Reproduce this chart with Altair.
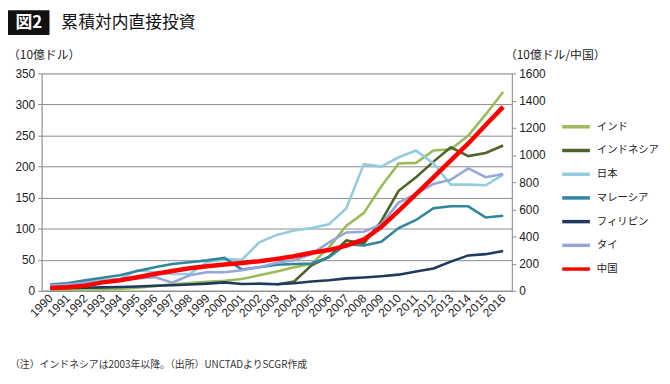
import altair as alt
import pandas as pd

years = [str(y) for y in range(1990, 2017)]

names = ["インド", "インドネシア", "日本", "マレーシア", "フィリピン", "タイ", "中国"]
colors = ["#9BBB59", "#4F6228", "#93CDDD", "#31859C", "#1F3A5F", "#95A6D8", "#FF0000"]

india = [1.7, 1.9, 2.1, 2.3, 3.0, 5.0, 7.5, 10.5, 12.5, 14.5, 16.3, 19, 25, 31, 38, 43,
         70, 105, 125, 168, 205, 206, 226, 228, 250, 284, 320]
indonesia = [None] * 13 + [10, 15, 41, 55, 81, 76, 112, 161, 183, 208, 231, 217, 222, 234]
japan = [10, 12, 15.5, 17, 19, 33, 30, 27, 27, 46, 51, 50, 78, 90, 97, 101, 107, 133,
         204, 200, 215, 226, 205, 171, 171, 170, 187]
malaysia = [10, 12, 17, 21, 25, 32, 38, 43, 46, 49, 53, 34, 38, 42, 43, 44, 54, 75, 73,
            79, 101, 114, 133, 136, 136, 118, 121]
philippines = [4, 4.5, 5, 5.5, 6, 7, 8, 9, 10, 11.5, 13.5, 11, 11.5, 10.5, 12, 15, 17,
               20, 21.5, 23.5, 26, 31, 36, 47, 57, 59, 64]
thailand = [8.5, 10, 12.5, 14.5, 16.5, 20, 22, 13, 25, 30, 30, 33, 38, 45, 49, 59, 78,
            94, 95, 107, 142, 156, 172, 179, 197, 183, 188]
china = [21, 26, 38, 62, 78, 100, 124, 146, 166, 181, 193, 205, 218, 235, 254, 280, 300,
         332, 378, 470, 588, 711, 835, 960, 1085, 1220, 1354]

left_ticks = list(range(0, 351, 50))
right_ticks = list(range(0, 1601, 200))

rows = []
for name, series in zip(names[:6], [india, indonesia, japan, malaysia, philippines, thailand]):
    for i, (yr, v) in enumerate(zip(years, series)):
        rows.append({"year": yr, "country": name, "value": v, "order": i})
df_left = pd.DataFrame(rows)
df_china = pd.DataFrame({"year": years, "country": "中国", "value": china,
                         "order": list(range(len(years)))})

JP = "Noto Sans CJK JP"
NUM = "Liberation Sans"

xenc = alt.X("year:O", sort=years,
             scale=alt.Scale(type="point", padding=0.5),
             axis=alt.Axis(title=None, labelAngle=-45, labelAlign="right",
                           labelBaseline="middle", ticks=False, labelPadding=5,
                           domainColor="#8a8a8a", labelFont=NUM, labelFontSize=12,
                           labelColor="#222"))

legend = alt.Legend(orient="none", legendX=525, legendY=38, title=None,
                    symbolType="stroke", symbolSize=784, symbolStrokeWidth=3.5,
                    labelFont=JP, labelFontSize=10.5, labelColor="#222",
                    rowPadding=1, labelOffset=5)

color = alt.Color("country:N", scale=alt.Scale(domain=names, range=colors), legend=legend)

left = alt.Chart(df_left).mark_line(strokeWidth=2.6).encode(
    x=xenc,
    y=alt.Y("value:Q", scale=alt.Scale(domain=[0, 350], nice=False),
            axis=alt.Axis(title=None, values=left_ticks, grid=True, gridColor="#8a8a8a",
                          tickSize=4, tickColor="#8a8a8a", domainColor="#8a8a8a",
                          labelFont=NUM, labelFontSize=12, labelColor="#222",
                          labelPadding=3)),
    color=color,
    detail="country:N",
    order="order:Q",
)

right = alt.Chart(df_china).mark_line(strokeWidth=4.5).encode(
    x=xenc,
    y=alt.Y("value:Q", scale=alt.Scale(domain=[0, 1600], nice=False),
            axis=alt.Axis(title=None, orient="right", values=right_ticks, grid=False,
                          format="d",
                          tickSize=4, tickColor="#8a8a8a", domainColor="#8a8a8a",
                          labelFont=NUM, labelFontSize=12, labelColor="#222",
                          labelPadding=3)),
    color=color,
    order="order:Q",
)

one = pd.DataFrame({"a": [0]})

box = alt.Chart(one).mark_rect(color="#111").encode(
    x=alt.value(-34), x2=alt.value(8), y=alt.value(-64), y2=alt.value(-39))
fig = alt.Chart(one).mark_text(text="図2", font=JP, fontSize=17, fontWeight="bold",
                               color="white", align="center", baseline="middle").encode(
    x=alt.value(-13), y=alt.value(-51.5))
title = alt.Chart(one).mark_text(text="累積対内直接投資", font=JP, fontSize=17,
                                 color="#111", align="left", baseline="middle").encode(
    x=alt.value(20), y=alt.value(-51.5))
lunit = alt.Chart(one).mark_text(text="（10億ドル）", font=JP, fontSize=12,
                                 color="#222", align="left", baseline="middle").encode(
    x=alt.value(-34), y=alt.value(-19))
runit = alt.Chart(one).mark_text(text="（10億ドル/中国）", font=JP, fontSize=12,
                                 color="#222", align="left", baseline="middle").encode(
    x=alt.value(469), y=alt.value(-19))
note = alt.Chart(one).mark_text(text="（注）インドネシアは2003年以降。（出所）UNCTADよりSCGR作成",
                                font=JP, fontSize=10, color="#333", align="left",
                                baseline="middle").encode(
    x=alt.value(-32), y=alt.value(295))

chart = alt.layer(left, right, box, fig, title, lunit, runit, note).resolve_scale(
    y="independent"
).properties(
    width=476, height=220,
    padding={"left": 34, "top": 64, "right": 152, "bottom": 84},
    autosize=alt.AutoSizeParams(type="none"),
).configure_view(stroke=None).configure(background="white")

chart.save("out.html", embed_options={"renderer": "svg", "actions": False})
